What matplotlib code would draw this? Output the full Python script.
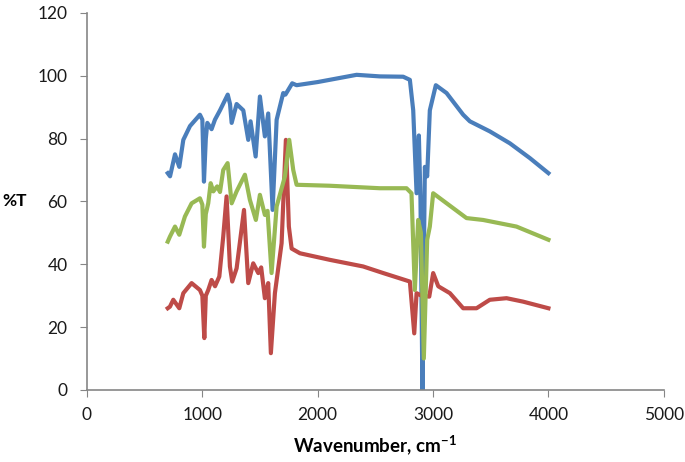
import matplotlib.pyplot as plt

# FTIR spectra (wavenumber cm-1, %T)
blue_wn = [700, 720, 763, 800, 835, 893, 979, 1000, 1014, 1030, 1043, 1080, 1109, 1153, 1220, 1240, 1254,
           1297, 1355, 1398, 1418, 1462, 1499, 1542, 1571, 1609, 1644, 1701, 1720, 1779, 1817, 2000, 2337,
           2539, 2741, 2799, 2828, 2857, 2877, 2891, 2908, 2929, 2949, 2972, 3024, 3117, 3261, 3319, 3492,
           3666, 3839, 4000]
blue_t = [69, 68, 75, 71, 79.6, 84, 87.6, 86, 66.3, 80, 85, 83, 86, 89, 94, 91, 85,
          91, 89, 79.6, 85.5, 74.3, 93.4, 80.7, 88, 57.3, 86, 94.5, 94, 97.6, 97, 98, 100.3,
          99.8, 99.7, 98.7, 89, 62.6, 81, 60.5, 0, 71, 68, 89, 97, 94.5, 87.6, 85.5, 82.3,
          78.5, 73.8, 69]

green_wn = [700, 719, 763, 800, 849, 907, 979, 1000, 1014, 1030, 1051, 1072, 1095, 1129, 1153, 1181, 1219,
            1254, 1297, 1369, 1412, 1464, 1499, 1542, 1565, 1600, 1644, 1716, 1753, 1788, 1817, 2100, 2539,
            2770, 2813, 2842, 2871, 2895, 2920, 2949, 2972, 3001, 3290, 3434, 3723, 4000]
green_t = [47.2, 48.8, 52, 49.4, 55.2, 59.4, 61, 59, 45.6, 56, 59.4, 65.8, 63.2, 64.8, 63, 70, 72.2,
           59.4, 63.2, 68.5, 60.5, 54.1, 62.1, 55.7, 57, 37.2, 58.4, 68, 79.6, 70, 65.3, 65, 64.2,
           64.2, 62.6, 31.8, 54.1, 50, 10, 47.8, 52, 62.6, 54.7, 54.1, 52, 47.8]

red_wn = [700, 719, 748, 800, 835, 907, 979, 1000, 1017, 1030, 1051, 1080, 1110, 1147, 1181, 1210, 1239,
          1259, 1297, 1361, 1398, 1441, 1485, 1510, 1542, 1571, 1594, 1629, 1687, 1724, 1750, 1774, 1846, 2106,
          2394, 2568, 2799, 2837, 2857, 2900, 2967, 3001, 3045, 3146, 3261, 3377, 3492, 3637, 3781, 4000]
red_t = [26, 26.5, 28.7, 26, 30.8, 34, 31.8, 30, 16.5, 30, 31.8, 35, 33, 36.1, 48.8, 61.6, 39.3,
         34.5, 38.7, 57.3, 34, 40.3, 37.2, 39, 29.2, 34, 11.7, 30.8, 46.7, 79.6, 52, 45, 43.5, 41.4,
         39.3, 37.2, 34.5, 18, 30.8, 30, 29.7, 37.2, 33, 30.8, 26, 26, 28.7, 29.2, 28.1, 26]

x_ticks = [0, 1000, 2000, 3000, 4000, 5000]
y_ticks = [0, 20, 40, 60, 80, 100, 120]

plt.rcParams['font.family'] = ['Lato', 'DejaVu Sans']
plt.rcParams['mathtext.fontset'] = 'custom'
plt.rcParams['mathtext.rm'] = 'Lato:bold'
plt.rcParams['mathtext.default'] = 'rm'

fig = plt.figure(figsize=(6.85, 4.62), dpi=100)
ax = fig.add_axes([0.127, 0.156, 0.842, 0.816])

ax.plot(blue_wn, blue_t, color='#4A7EBB', lw=3, solid_joinstyle='round')
ax.plot(red_wn, red_t, color='#BE4B48', lw=3, solid_joinstyle='round')
ax.plot(green_wn, green_t, color='#98B954', lw=3, solid_joinstyle='round')

ax.set_xlim(0, 5000)
ax.set_ylim(0, 120)
ax.set_xticks(x_ticks)
ax.set_yticks(y_ticks)
ax.tick_params(labelsize=12.5, color='#868686', length=5, pad=9, labelcolor='#1a1a1a')
ax.tick_params(axis='x', pad=7)

for s in ['top', 'right']:
    ax.spines[s].set_visible(False)
for s in ['left', 'bottom']:
    ax.spines[s].set_color('#868686')
    ax.spines[s].set_linewidth(1.2)

ax.set_xlabel('Wavenumber, cm$^{-1}$', fontsize=13.5, fontweight='bold', labelpad=8)
ax.set_ylabel('%T', fontsize=12.5, fontweight='bold', rotation=0, ha='center', va='center')
ax.yaxis.set_label_coords(-0.125, 0.5)

fig.savefig('out.png', dpi=100)
